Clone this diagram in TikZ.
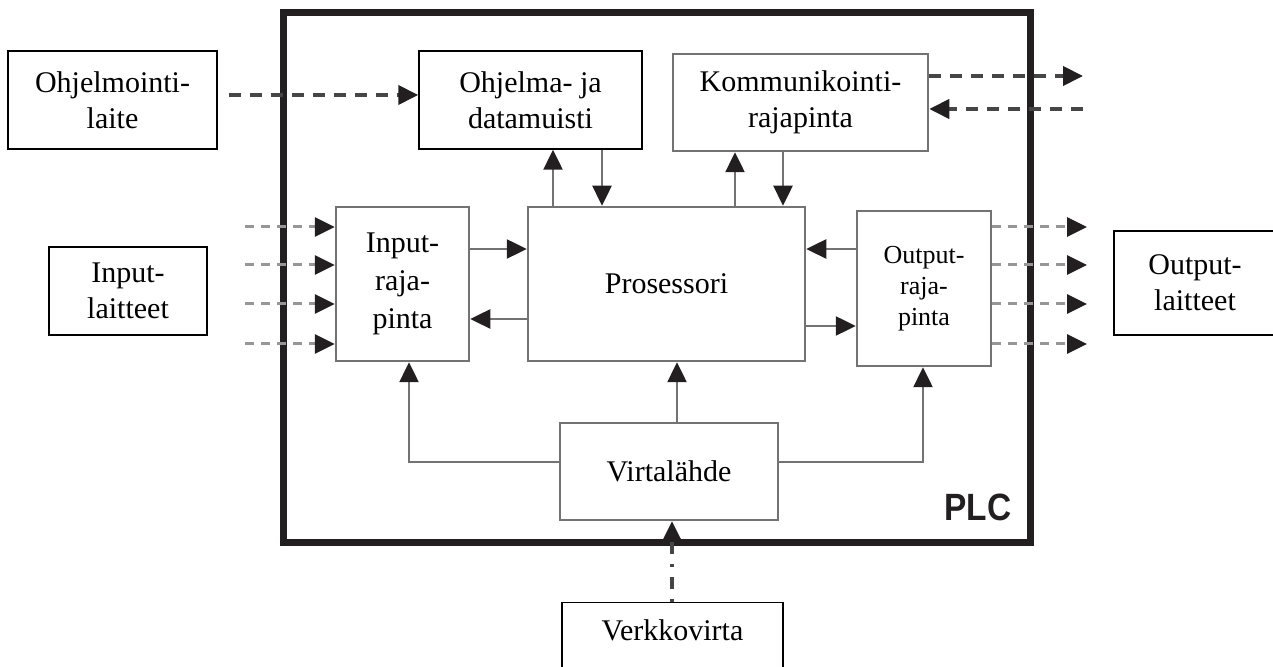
\documentclass[tikz,border=0pt]{standalone}
\usepackage{fontspec}
\setmainfont{Liberation Serif}
\newfontfamily\plcfont{Liberation Sans}
\usepackage{xcolor}
\usepackage{tikz}
\usetikzlibrary{arrows.meta,positioning}
\definecolor{linegray}{RGB}{115,115,115}
\definecolor{dashgray}{RGB}{70,70,70}
\definecolor{tipblack}{RGB}{35,31,32}

\begin{document}
\begin{tikzpicture}[
x=1pt, y=1pt,
font=\fontsize{30}{36}\selectfont,
unit/.style={draw=linegray, line width=2.5pt, align=center, inner sep=0pt},
device/.style={draw=black, line width=1.5pt, align=center, inner sep=0pt},
arr/.style={draw=linegray, line width=2.5pt, -{Triangle[length=20pt,width=19pt,color=tipblack]}},
sig/.style={draw=dashgray, line width=4pt, dash pattern=on 12pt off 9pt, -{Triangle[length=20pt,width=19pt,color=tipblack]}},
io/.style={draw=linegray!75, line width=3pt, dash pattern=on 9pt off 7pt, -{Triangle[length=20pt,width=19pt,color=tipblack]}}
]
\useasboundingbox (0,0) rectangle (1273,666);

% PLC frame
\draw[line width=7pt, draw=tipblack] (283,653) rectangle (1030,123);
\node[font=\plcfont\bfseries\fontsize{38}{40}\selectfont, text=tipblack, xscale=0.88] (plc) at (978,159) {PLC};

% blocks inside the PLC
\node[device, minimum width=223pt, minimum height=98pt] (muisti) at (530.5,566) {Ohjelma- ja\\datamuisti};
\node[unit, minimum width=255pt, minimum height=97pt] (komm) at (800.5,563.5) {Kommunikointi-\\rajapinta};
\node[unit, minimum width=277pt, minimum height=154pt] (prosessori) at (666.5,382) {Prosessori};
\node[unit, minimum width=133pt, minimum height=154pt, font=\fontsize{30}{38}\selectfont] (inraja) at (402.5,382) {Input-\\raja-\\pinta};
\node[unit, minimum width=134pt, minimum height=155pt, font=\fontsize{26}{31}\selectfont] (outraja) at (924,377.5) {Output-\\raja-\\pinta};
\node[unit, minimum width=218pt, minimum height=97pt] (virta) at (669,194.5) {Virtalähde};

% devices outside
\node[device, minimum width=209pt, minimum height=98pt] (ohjelmointi) at (112.5,566) {Ohjelmointi-\\laite};
\node[device, minimum width=158pt, minimum height=88pt] (inlaitteet) at (128,375) {Input-\\laitteet};
\node[device, minimum width=162pt, minimum height=104pt] (outlaitteet) at (1195,383) {Output-\\laitteet};
\node[device, minimum width=221pt, anchor=north, inner ysep=6pt, text height=32pt, text depth=40pt] (verkko) at (672.5,64) {Verkkovirta};

% programming device and communication
\draw[sig] ([shift={(11pt,5pt)}]ohjelmointi.east) -- (muisti.west |- 0,571);
\coordinate (kout) at (1083,590);
\coordinate (kin) at (1083,557);
\draw[sig] (komm.east |- kout) -- (kout);
\draw[sig] (kin) -- (komm.east |- kin);

% buses to processor
\draw[arr] (prosessori.north -| 553,0) -- (muisti.south -| 553,0);
\draw[arr] (muisti.south -| 602,0) -- (prosessori.north -| 602,0);
\draw[arr] (prosessori.north -| 735,0) -- (komm.south -| 735,0);
\draw[arr] (komm.south -| 783,0) -- (prosessori.north -| 783,0);
\draw[arr] (inraja.east |- 0,417) -- (prosessori.west |- 0,417);
\draw[arr] (prosessori.west |- 0,347) -- (inraja.east |- 0,347);
\draw[arr] (outraja.west |- 0,417) -- (prosessori.east |- 0,417);
\draw[arr] (prosessori.east |- 0,340) -- (outraja.west |- 0,340);

% inputs and outputs
\foreach \y in {439,401,362,322} {
  \coordinate (in\y) at (245,\y);
  \coordinate (out\y) at (1087,\y);
  \draw[io] (in\y) -- (inraja.west |- in\y);
  \draw[io] (outraja.east |- out\y) -- (out\y);
}

% power supply
\draw[arr] (virta.west |- 0,204) -| (409,0 |- inraja.south);
\draw[arr] (virta.east |- 0,204) -| (923,0 |- outraja.south);
\draw[arr] (virta.north -| 677,0) -- (prosessori.south -| 677,0);
\draw[sig, line width=3.5pt, dash pattern=on 3pt off 10pt on 12pt off 10pt] (verkko.north -| 672,0) -- (virta.south -| 672,0);
\end{tikzpicture}
\end{document}
